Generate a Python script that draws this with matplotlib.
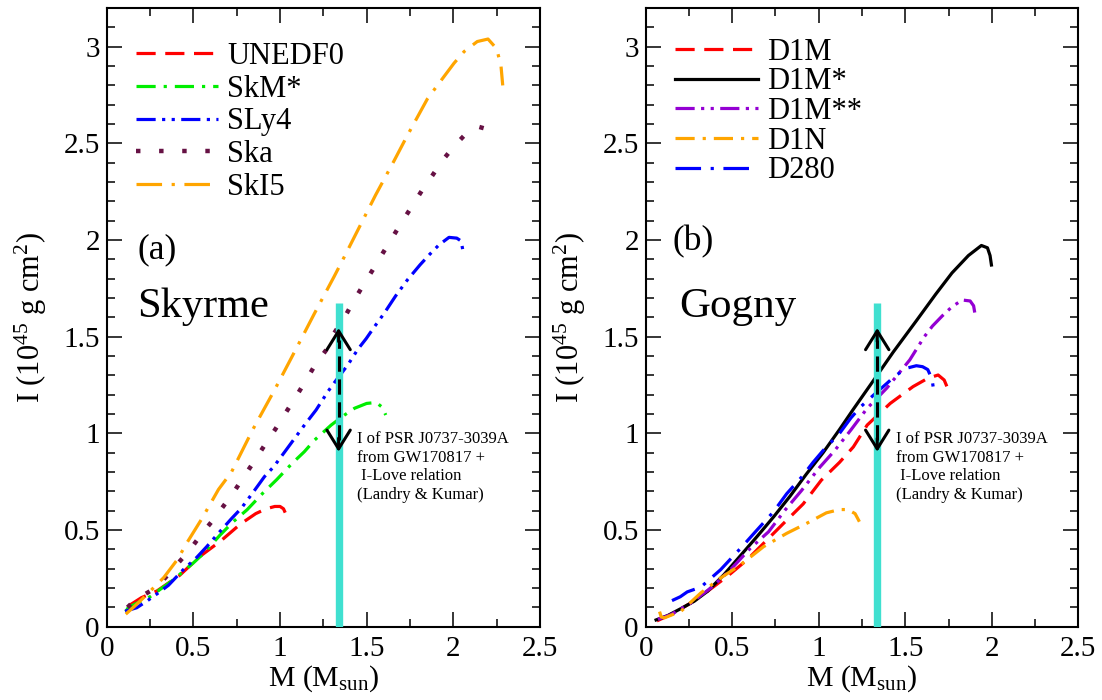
import matplotlib
matplotlib.use("Agg")
import matplotlib.pyplot as plt
from matplotlib.ticker import MultipleLocator, FuncFormatter

plt.rcParams['font.family'] = ['Liberation Serif', 'DejaVu Serif']
plt.rcParams['mathtext.fontset'] = 'custom'
plt.rcParams['mathtext.rm'] = 'Liberation Serif'
plt.rcParams['mathtext.it'] = 'Liberation Serif:italic'
plt.rcParams['mathtext.default'] = 'regular'

# ---------------- data ----------------
# Skyrme panel
unedf0_M = [0.13, 0.2, 0.29, 0.42, 0.54, 0.66, 0.77, 0.86, 0.92, 0.97, 1.0, 1.02, 1.03]
unedf0_I = [0.11, 0.15, 0.185, 0.265, 0.365, 0.445, 0.53, 0.585, 0.61, 0.622, 0.622, 0.61, 0.59]

skm_M = [0.11, 0.125, 0.25, 0.385, 0.5, 0.56, 0.654, 0.73, 0.81, 0.9, 0.98, 1.07, 1.14, 1.2,
         1.295, 1.372, 1.43, 1.5, 1.555, 1.59, 1.61]
skm_I = [0.078, 0.1, 0.155, 0.243, 0.33, 0.38, 0.474, 0.543, 0.605, 0.69, 0.76, 0.845, 0.905, 0.966,
         1.043, 1.095, 1.13, 1.155, 1.16, 1.135, 1.095]

sly4_M = [0.106, 0.173, 0.231, 0.298, 0.356, 0.442, 0.519, 0.577, 0.644, 0.721, 0.776, 0.843, 0.91,
          0.964, 1.035, 1.099, 1.141, 1.208, 1.276, 1.318, 1.391, 1.449, 1.497, 1.545, 1.6, 1.667,
          1.735, 1.808, 1.86, 1.917, 1.975, 2.02, 2.045, 2.058]
sly4_I = [0.08, 0.098, 0.132, 0.175, 0.214, 0.295, 0.358, 0.414, 0.483, 0.56, 0.612, 0.693, 0.776,
          0.828, 0.914, 0.992, 1.043, 1.121, 1.216, 1.268, 1.354, 1.435, 1.49, 1.552, 1.62, 1.711,
          1.794, 1.872, 1.923, 1.975, 2.014, 2.01, 1.995, 1.932]

ska_M = [0.12, 0.163, 0.256, 0.337, 0.408, 0.477, 0.542, 0.61, 0.673, 0.737, 0.795, 0.856, 0.914,
         0.974, 1.031, 1.089, 1.145, 1.199, 1.266, 1.312, 1.372, 1.423, 1.479, 1.535, 1.59, 1.646,
         1.702, 1.76, 1.817, 1.879, 1.94, 2.008, 2.081, 2.15, 2.19, 2.215]
ska_I = [0.1, 0.137, 0.187, 0.252, 0.325, 0.394, 0.473, 0.548, 0.623, 0.702, 0.781, 0.862, 0.943,
         1.023, 1.104, 1.186, 1.267, 1.349, 1.431, 1.518, 1.6, 1.682, 1.765, 1.846, 1.928, 2.01,
         2.092, 2.173, 2.254, 2.334, 2.415, 2.489, 2.558, 2.585, 2.575, 2.496]

ski5_M = [0.11, 0.16, 0.23, 0.33, 0.41, 0.46, 0.55, 0.645, 0.72, 0.843, 0.968, 1.064, 1.129, 1.199,
          1.312, 1.369, 1.465, 1.552, 1.658, 1.731, 1.85, 1.927, 2.004, 2.062, 2.138, 2.2, 2.25,
          2.275, 2.285]
ski5_I = [0.065, 0.105, 0.165, 0.255, 0.35, 0.43, 0.56, 0.71, 0.8, 1.02, 1.224, 1.388, 1.5, 1.621,
          1.811, 1.91, 2.08, 2.234, 2.41, 2.535, 2.73, 2.823, 2.915, 2.975, 3.027, 3.04, 2.99,
          2.9, 2.8]

# Gogny panel
d1m_M = [0.065, 0.166, 0.261, 0.357, 0.471, 0.586, 0.691, 0.796, 0.91, 1.015, 1.12, 1.2, 1.28,
         1.413, 1.545, 1.63, 1.69, 1.725, 1.745]
d1m_I = [0.03, 0.072, 0.123, 0.183, 0.26, 0.346, 0.44, 0.534, 0.635, 0.758, 0.85, 0.93, 1.043,
         1.155, 1.242, 1.285, 1.302, 1.276, 1.233]

d1ms_M = [0.06, 0.128, 0.204, 0.281, 0.357, 0.452, 0.548, 0.643, 0.739, 0.834, 0.929, 1.025, 1.12,
          1.2, 1.337, 1.43, 1.562, 1.676, 1.77, 1.865, 1.94, 1.975, 1.99, 1.998]
d1ms_I = [0.035, 0.058, 0.094, 0.132, 0.183, 0.269, 0.368, 0.466, 0.568, 0.675, 0.79, 0.9, 1.02,
          1.125, 1.3, 1.42, 1.58, 1.72, 1.83, 1.92, 1.972, 1.96, 1.92, 1.871]

d1mss_M = [0.071, 0.147, 0.261, 0.376, 0.49, 0.605, 0.71, 0.805, 0.901, 1.006, 1.092, 1.186, 1.28,
           1.394, 1.526, 1.61, 1.657, 1.713, 1.77, 1.829, 1.875, 1.895, 1.904]
d1mss_I = [0.038, 0.063, 0.123, 0.2, 0.295, 0.406, 0.491, 0.603, 0.705, 0.825, 0.911, 1.018, 1.13,
           1.235, 1.38, 1.5, 1.555, 1.607, 1.655, 1.69, 1.685, 1.66, 1.612]

d1n_M = [0.08, 0.09, 0.109, 0.204, 0.319, 0.433, 0.548, 0.681, 0.815, 0.929, 1.044, 1.12, 1.168,
         1.21, 1.225, 1.235]
d1n_I = [0.078, 0.05, 0.046, 0.08, 0.175, 0.252, 0.32, 0.414, 0.483, 0.534, 0.589, 0.606, 0.606,
         0.585, 0.56, 0.543]

d280_M = [0.152, 0.2, 0.24, 0.319, 0.433, 0.557, 0.643, 0.739, 0.815, 0.901, 0.968, 1.025, 1.12,
          1.186, 1.243, 1.318, 1.394, 1.441, 1.507, 1.564, 1.6, 1.63, 1.655, 1.665]
d280_I = [0.135, 0.155, 0.18, 0.205, 0.295, 0.414, 0.5, 0.595, 0.688, 0.774, 0.851, 0.911, 1.0,
          1.08, 1.138, 1.199, 1.259, 1.297, 1.337, 1.35, 1.345, 1.33, 1.28, 1.216]

# constraint (Landry & Kumar)
psr_M = 1.338
band_top = 1.673
arrow_lo = 0.905
arrow_hi = 1.545
note = "I of PSR J0737-3039A\nfrom GW170817 +\n I-Love relation\n(Landry & Kumar)"

skyrme = [
    ("UNEDF0", unedf0_M, unedf0_I, 'red', (0, (6, 3))),
    ("SkM*", skm_M, skm_I, '#00ee00', (0, (6, 2.5, 1, 2.5))),
    ("SLy4", sly4_M, sly4_I, 'blue', (0, (6, 2, 1, 2, 1, 2))),
    ("Ska", ska_M, ska_I, '#661144', (0, (1, 4.2))),
    ("SkI5", ski5_M, ski5_I, 'orange', (0, (8, 3, 1, 3))),
]
gogny = [
    ("D1M", d1m_M, d1m_I, 'red', (0, (6, 3))),
    ("D1M*", d1ms_M, d1ms_I, 'black', '-'),
    ("D1M**", d1mss_M, d1mss_I, '#9400d3', (0, (6, 2, 1, 2, 1, 2))),
    ("D1N", d1n_M, d1n_I, 'orange', (0, (6, 2.5, 1, 2.5))),
    ("D280", d280_M, d280_I, 'blue', (0, (8, 3, 1, 3))),
]

W, H = 1102, 700
fig = plt.figure(figsize=(W / 100, H / 100), dpi=100)
ax1 = fig.add_axes([106.7 / W, 1 - 626.7 / H, 433.3 / W, 618.6 / H])
ax2 = fig.add_axes([645.7 / W, 1 - 626.7 / H, 432.6 / W, 618.6 / H])

fmt = FuncFormatter(lambda v, p: f"{v:g}")


def style(ax):
    ax.set_xlim(0, 2.5)
    ax.set_ylim(0, 3.2)
    ax.xaxis.set_major_locator(MultipleLocator(0.5))
    ax.xaxis.set_minor_locator(MultipleLocator(0.25))
    ax.yaxis.set_major_locator(MultipleLocator(0.5))
    ax.yaxis.set_minor_locator(MultipleLocator(0.1))
    ax.tick_params(which='both', direction='in', top=True, right=True, width=1.1)
    ax.tick_params(which='major', length=11, labelsize=21)
    ax.tick_params(which='minor', length=6)
    ax.tick_params(axis='x', which='major', pad=7)
    ax.tick_params(axis='y', which='major', pad=5)
    ax.xaxis.set_major_formatter(fmt)
    ax.yaxis.set_major_formatter(fmt)
    for s in ax.spines.values():
        s.set_linewidth(1.5)
    ax.set_xlabel(r"M (M$_{\mathrm{sun}}$)", fontsize=21.5, labelpad=1)
    ax.set_ylabel(r"I (10$^{45}$ g cm$^{2}$)", fontsize=22, labelpad=10)


def constraint(ax):
    ax.plot([psr_M, psr_M], [0, band_top], color='#40e0d0', lw=5.3, solid_capstyle='butt', zorder=3)
    ax.plot([psr_M, psr_M], [arrow_lo + 0.06, arrow_hi - 0.06], color='black', lw=2.2,
            linestyle=(0, (5, 2.5)), zorder=4)
    for tip, d in ((arrow_hi, -0.07), (arrow_lo, 0.07)):
        ax.annotate("", xy=(psr_M, tip), xytext=(psr_M, tip + d),
                    arrowprops=dict(arrowstyle='->,head_length=0.45,head_width=0.28',
                                    color='black', lw=2.2, mutation_scale=30,
                                    shrinkA=0, shrinkB=0), zorder=5)
    ax.text(1.446, 1.01, note, fontsize=12, va='top', ha='left', linespacing=1.2, zorder=6)


for ax, sets in ((ax1, skyrme), (ax2, gogny)):
    for name, M, I, c, ls in sets:
        lw = 3.2 if name == "Ska" else 2.3
        ax.plot(M, I, color=c, linestyle=ls, lw=lw, label=name, zorder=2)
    style(ax)
    constraint(ax)

ax1.legend(loc='upper left', bbox_to_anchor=(0.067, 0.945), frameon=False, fontsize=22,
           handlelength=2.7, handletextpad=0.3, labelspacing=0.12, borderpad=0,
           borderaxespad=0)
ax2.legend(loc='upper left', bbox_to_anchor=(0.068, 0.952), frameon=False, fontsize=22,
           handlelength=2.7, handletextpad=0.3, labelspacing=0.02, borderpad=0,
           borderaxespad=0)

ax1.text(0.178, 1.948, "(a)", fontsize=25.5, va='center', ha='left')
ax1.text(0.173, 1.602, "Skyrme", fontsize=30.5, va='baseline', ha='left')
ax2.text(0.152, 1.992, "(b)", fontsize=25.5, va='center', ha='left')
ax2.text(0.195, 1.602, "Gogny", fontsize=31, va='baseline', ha='left')

fig.savefig("out.png", dpi=100)
